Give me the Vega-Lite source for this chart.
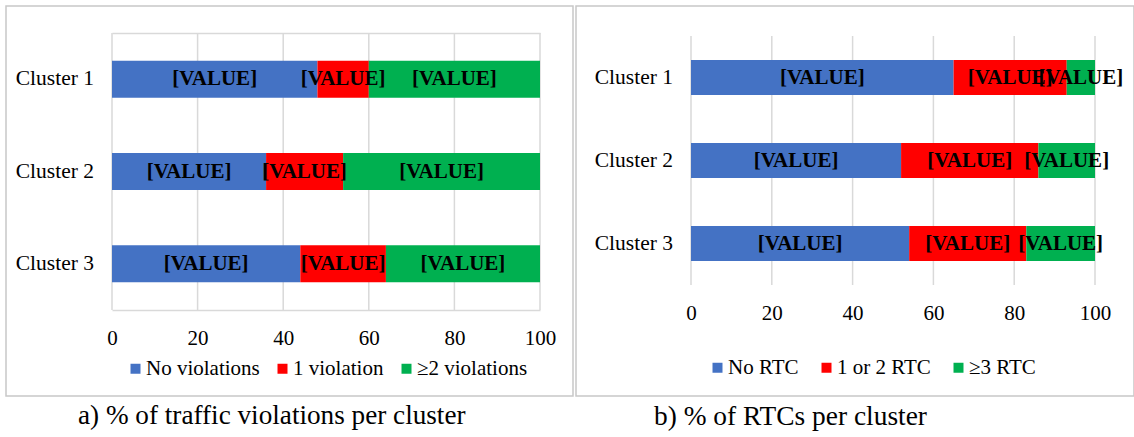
{
  "$schema": "https://vega.github.io/schema/vega-lite/v6.json",
  "padding": {"left": 5, "top": 5, "right": 0, "bottom": 0},
  "background": "white",
  "spacing": 1,
  "datasets": {
    "violations": [
      {"cluster": "Cluster 1", "cat": "No violations", "k": 1, "pct": 48},
      {"cluster": "Cluster 1", "cat": "1 violation", "k": 2, "pct": 12},
      {"cluster": "Cluster 1", "cat": "≥2 violations", "k": 3, "pct": 40},
      {"cluster": "Cluster 2", "cat": "No violations", "k": 1, "pct": 36},
      {"cluster": "Cluster 2", "cat": "1 violation", "k": 2, "pct": 18},
      {"cluster": "Cluster 2", "cat": "≥2 violations", "k": 3, "pct": 46},
      {"cluster": "Cluster 3", "cat": "No violations", "k": 1, "pct": 44},
      {"cluster": "Cluster 3", "cat": "1 violation", "k": 2, "pct": 20},
      {"cluster": "Cluster 3", "cat": "≥2 violations", "k": 3, "pct": 36}
    ],
    "rtc": [
      {"cluster": "Cluster 1", "cat": "No RTC", "k": 1, "pct": 65},
      {"cluster": "Cluster 1", "cat": "1 or 2 RTC", "k": 2, "pct": 28},
      {"cluster": "Cluster 1", "cat": "≥3 RTC", "k": 3, "pct": 7},
      {"cluster": "Cluster 2", "cat": "No RTC", "k": 1, "pct": 52},
      {"cluster": "Cluster 2", "cat": "1 or 2 RTC", "k": 2, "pct": 34},
      {"cluster": "Cluster 2", "cat": "≥3 RTC", "k": 3, "pct": 14},
      {"cluster": "Cluster 3", "cat": "No RTC", "k": 1, "pct": 54},
      {"cluster": "Cluster 3", "cat": "1 or 2 RTC", "k": 2, "pct": 29},
      {"cluster": "Cluster 3", "cat": "≥3 RTC", "k": 3, "pct": 17}
    ],
    "ticks": [{"t": 0}, {"t": 20}, {"t": 40}, {"t": 60}, {"t": 80}, {"t": 100}]
  },
  "hconcat": [
    {
      "width": 567,
      "height": 390,
      "title": {"text": "a) % of traffic violations per cluster", "orient": "bottom", "anchor": "start", "frame": "group", "dx": 72, "offset": 7, "fontSize": 27.2, "font": "Liberation Serif", "fontWeight": "normal", "color": "#000"},
      "resolve": {"axis": {"x": "independent"}, "scale": {"y": "independent"}},
      "layer": [
        {
          "data": {"name": "ticks"},
          "mark": {"type": "rule", "color": "#d9d9d9", "strokeWidth": 1.5},
          "encoding": {
            "x": {"field": "t", "type": "quantitative", "axis": null},
            "y": {"datum": 0, "type": "quantitative", "scale": {"domain": [0, 1], "range": [27, 304]}, "axis": null},
            "y2": {"datum": 1}
          }
        },
        {
          "data": {"name": "violations"},
          "transform": [
            {"stack": "pct", "groupby": ["cluster"], "sort": [{"field": "k", "order": "ascending"}], "as": ["x0", "x1"]},
            {"calculate": "(datum.x0 + datum.x1) / 2", "as": "xm"}
          ],
          "layer": [
            {
              "mark": {"type": "bar"},
              "encoding": {
                "y": {
                  "field": "cluster", "type": "nominal",
                  "scale": {"range": [27, 304], "paddingInner": 0.6, "paddingOuter": 0.3},
                  "axis": {"orient": "left", "offset": -87.5, "domain": false, "ticks": false, "tickSize": 0, "labelPadding": 0, "grid": false, "labelFontSize": 21.5, "labelFont": "Liberation Serif", "labelColor": "#000", "title": null}
                },
                "x": {"field": "x0", "type": "quantitative", "scale": {"domain": [0, 100], "range": [106, 534], "nice": false, "zero": false},
                  "axis": {"orient": "bottom", "offset": -86, "values": [0, 20, 40, 60, 80, 100], "grid": false, "domain": true, "domainColor": "#d9d9d9", "domainWidth": 1.5, "ticks": false, "tickSize": 0, "labelFlush": false, "labelPadding": 17, "labelFontSize": 21, "labelFont": "Liberation Serif", "labelColor": "#000", "title": null}},
                "x2": {"field": "x1"},
                "color": {
                  "field": "cat", "type": "nominal",
                  "scale": {"domain": ["No violations", "1 violation", "≥2 violations"], "range": ["#4472C4", "#FF0000", "#00B050"]},
                  "legend": {"orient": "none", "legendX": 119, "legendY": 352, "direction": "horizontal", "title": null, "symbolType": "square", "symbolSize": 100, "symbolStrokeWidth": 0, "labelFontSize": 21, "labelFont": "Liberation Serif", "labelColor": "#000", "columnPadding": 12, "labelOffset": 0}
                }
              }
            },
            {
              "mark": {"type": "text", "font": "Liberation Serif", "fontWeight": "bold", "fontSize": 21, "color": "#000", "baseline": "middle"},
              "encoding": {
                "y": {"field": "cluster", "type": "nominal"},
                "x": {"field": "xm", "type": "quantitative",
                  "axis": {"orient": "top", "offset": -27, "labels": false, "ticks": false, "grid": false, "domain": true, "domainColor": "#d9d9d9", "domainWidth": 1.5, "title": null}},
                "text": {"value": "[VALUE]"}
              }
            }
          ]
        }
      ]
    },
    {
      "width": 558,
      "height": 390,
      "title": {"text": "b) % of RTCs per cluster", "orient": "bottom", "anchor": "start", "frame": "group", "dx": 78, "offset": 7, "fontSize": 27.4, "font": "Liberation Serif", "fontWeight": "normal", "color": "#000"},
      "resolve": {"axis": {"x": "independent"}, "scale": {"y": "independent"}},
      "layer": [
        {
          "data": {"name": "ticks"},
          "mark": {"type": "rule", "color": "#d9d9d9", "strokeWidth": 1.5},
          "encoding": {
            "x": {"field": "t", "type": "quantitative", "axis": null},
            "y": {"datum": 0, "type": "quantitative", "scale": {"domain": [0, 1], "range": [30, 279]}, "axis": null},
            "y2": {"datum": 1}
          }
        },
        {
          "data": {"name": "rtc"},
          "transform": [
            {"stack": "pct", "groupby": ["cluster"], "sort": [{"field": "k", "order": "ascending"}], "as": ["x0", "x1"]},
            {"calculate": "(datum.x0 + datum.x1) / 2", "as": "xm"}
          ],
          "layer": [
            {
              "mark": {"type": "bar"},
              "encoding": {
                "y": {
                  "field": "cluster", "type": "nominal",
                  "scale": {"range": [30, 279], "paddingInner": 0.58, "paddingOuter": 0.29},
                  "axis": {"orient": "left", "offset": -96.5, "domain": false, "ticks": false, "tickSize": 0, "labelPadding": 0, "grid": false, "labelFontSize": 21.5, "labelFont": "Liberation Serif", "labelColor": "#000", "title": null}
                },
                "x": {"field": "x0", "type": "quantitative", "scale": {"domain": [0, 100], "range": [115, 519], "nice": false, "zero": false},
                  "axis": {"orient": "bottom", "offset": -111, "values": [0, 20, 40, 60, 80, 100], "grid": false, "domain": true, "domainOpacity": 0, "ticks": false, "tickSize": 0, "labelFlush": false, "labelPadding": 17, "labelFontSize": 21, "labelFont": "Liberation Serif", "labelColor": "#000", "title": null}},
                "x2": {"field": "x1"},
                "color": {
                  "field": "cat", "type": "nominal",
                  "scale": {"domain": ["No RTC", "1 or 2 RTC", "≥3 RTC"], "range": ["#4472C4", "#FF0000", "#00B050"]},
                  "legend": {"orient": "none", "legendX": 131, "legendY": 351, "direction": "horizontal", "title": null, "symbolType": "square", "symbolSize": 100, "symbolStrokeWidth": 0, "labelFontSize": 21, "labelFont": "Liberation Serif", "labelColor": "#000", "columnPadding": 17, "labelOffset": 0}
                }
              }
            },
            {
              "mark": {"type": "text", "font": "Liberation Serif", "fontWeight": "bold", "fontSize": 21, "color": "#000", "baseline": "middle"},
              "encoding": {
                "y": {"field": "cluster", "type": "nominal"},
                "x": {"field": "xm", "type": "quantitative",
                  "axis": {"orient": "top", "labels": false, "ticks": false, "grid": false, "domain": true, "domainOpacity": 0, "title": null}},
                "text": {"value": "[VALUE]"}
              }
            }
          ]
        }
      ]
    }
  ],
  "resolve": {"scale": {"color": "independent"}},
  "config": {
    "font": "Liberation Serif",
    "view": {"stroke": "#c8c8c8", "strokeWidth": 1.5}
  }
}
